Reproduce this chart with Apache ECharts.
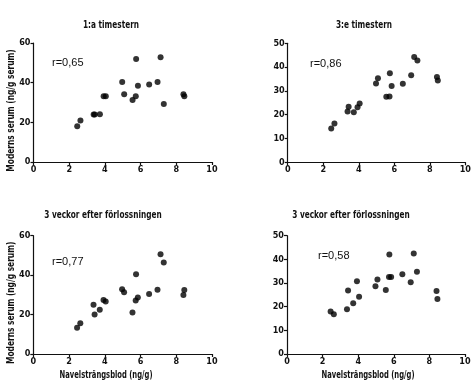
<!DOCTYPE html>
<html><head><meta charset="utf-8">
<script src="https://cdn.jsdelivr.net/npm/echarts@6/dist/echarts.min.js"></script>
<style>html,body{margin:0;padding:0;background:#fff}#c{width:474px;height:386px}</style>
</head><body><div id="c"></div>
<script>
// Shared x values: Navelsträngsblod (ng/g)
const cordBlood = [2.45, 2.63, 3.37, 3.43, 3.72, 3.93, 4.05, 4.97, 5.08, 5.55, 5.73, 5.75, 5.85, 6.48, 6.95, 7.12, 7.3, 8.4, 8.45];
// Moderns serum (ng/g serum) per panel
const serum1 = [18.0, 20.9, 23.9, 23.9, 24.1, 33.1, 33.2, 40.3, 34.2, 31.2, 33.2, 51.9, 38.4, 39.1, 40.3, 52.8, 29.3, 34.2, 33.1];
const serum2 = [14.2, 16.3, 21.3, 23.3, 21.0, 23.1, 24.7, 33.1, 35.3, 27.5, 27.6, 37.4, 32.1, 33.0, 36.6, 44.2, 42.8, 35.8, 34.4];
const serum3 = [13.3, 15.6, 25.0, 20.0, 22.5, 27.4, 26.6, 32.8, 31.3, 21.0, 27.1, 40.5, 28.7, 30.4, 32.6, 50.6, 46.4, 29.9, 32.4];
const serum4 = [18.0, 16.8, 18.9, 26.8, 21.5, 30.8, 24.2, 28.6, 31.5, 27.0, 32.5, 42.1, 32.5, 33.7, 30.3, 42.5, 34.8, 26.6, 23.2];
const panelTitles = ["1:a timestern", "3:e timestern", "3 veckor efter förlossningen", "3 veckor efter förlossningen"];
const rLabels = ["r=0,65", "r=0,86", "r=0,77", "r=0,58"];
const yMax = [60, 50, 60, 50];
const yStep = [20, 10, 20, 10];
const yName = "Moderns serum (ng/g serum)";
const xName = "Navelsträngsblod (ng/g)";

const FONT = "'Liberation Sans Narrow', 'DejaVu Sans Condensed', 'Arial Narrow', sans-serif";
const grids = [
  {left: 33.5, top: 43, width: 178.5, height: 119},
  {left: 287.7, top: 43.3, width: 179.3, height: 119},
  {left: 33.3, top: 235.7, width: 178.7, height: 118.3},
  {left: 287, top: 235.7, width: 178, height: 118.3}
];
const allY = [serum1, serum2, serum3, serum4];
const titlePos = [[111, 25], [364, 25], [103, 215], [351, 215]];
const rPos = [[52, 57], [310, 58], [52, 256], [318, 250]];

const axisCommon = {
  axisLine: {lineStyle: {color: '#111', width: 1.2}},
  axisTick: {lineStyle: {color: '#111', width: 1.2}, length: 3},
  splitLine: {show: false},
  axisLabel: {color: '#111', fontFamily: FONT, fontWeight: 'bold', fontSize: 9, margin: 3}
};

function label(text, x, y, size, sx, rot) {
  return {
    type: 'text', x: x, y: y, rotation: rot || 0, scaleX: sx,
    style: {text: text, font: 'bold ' + size + 'px ' + FONT, fill: '#111', textAlign: 'center', textVerticalAlign: 'middle'}
  };
}

const option = {
  animation: false,
  backgroundColor: '#fff',
  grid: grids.map(g => Object.assign({containLabel: false}, g)),
  xAxis: grids.map((g, i) => Object.assign({}, axisCommon, {
    type: 'value', gridIndex: i, min: 0, max: 10, interval: 2
  })),
  yAxis: grids.map((g, i) => Object.assign({}, axisCommon, {
    type: 'value', gridIndex: i, min: 0, max: yMax[i], interval: yStep[i]
  })),
  series: allY.map((ys, i) => ({
    type: 'scatter', xAxisIndex: i, yAxisIndex: i, symbolSize: 6,
    itemStyle: {color: '#000'},
    data: cordBlood.map((x, k) => [x, ys[k]])
  })),
  graphic: [
    ...panelTitles.map((t, i) => label(t, titlePos[i][0], titlePos[i][1], 10.5, 0.78)),
    ...rLabels.map((t, i) => ({
      type: 'text', left: rPos[i][0], top: rPos[i][1],
      style: {text: t, font: "11px 'Liberation Sans', Arial, sans-serif", fill: '#111'}
    })),
    ...[0, 2].map(i => label(yName, 11, grids[i].top + grids[i].height / 2 + 8, 10, 0.83, Math.PI / 2)),
    label(xName, 106, 375, 10.5, 0.72),
    label(xName, 368, 375, 10.5, 0.72)
  ]
};
const chart = echarts.init(document.getElementById('c'), null, {renderer: 'canvas'});
chart.setOption(option);
</script></body></html>
